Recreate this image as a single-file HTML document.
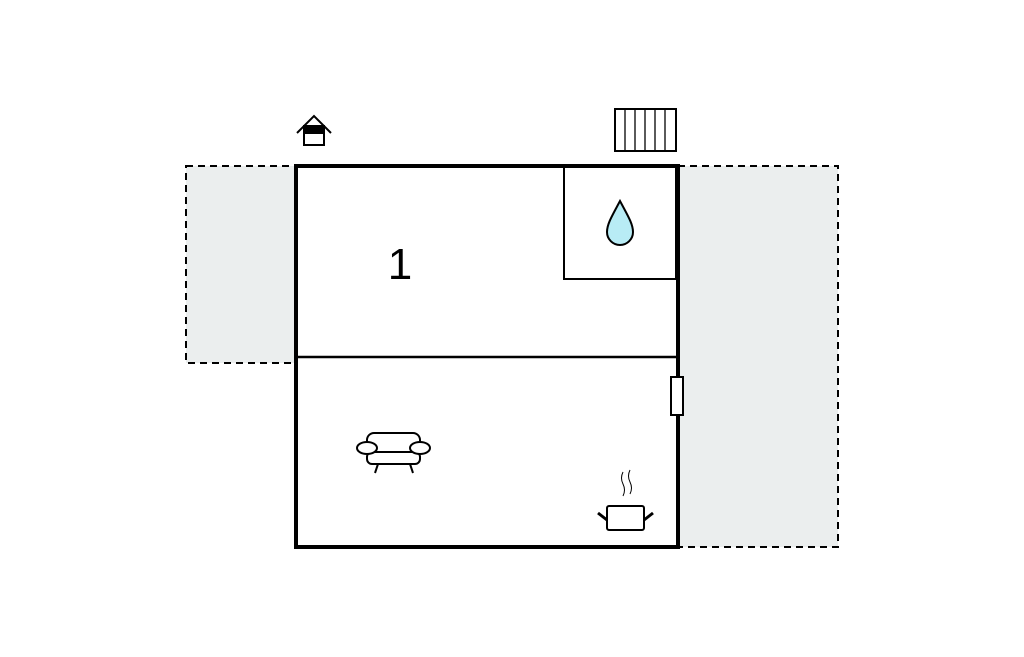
<!DOCTYPE html>
<html><head><style>html,body{margin:0;padding:0;background:#fff}</style></head>
<body>
<svg width="1024" height="652" viewBox="0 0 1024 652" xmlns="http://www.w3.org/2000/svg">
<rect x="186" y="166" width="110" height="197" fill="#ebeeee" stroke="#000" stroke-width="2" stroke-dasharray="7,5"/>
<rect x="678" y="166" width="160" height="381" fill="#ebeeee" stroke="#000" stroke-width="2" stroke-dasharray="7,5"/>
<rect x="296" y="166" width="382" height="381" fill="#fff"/>
<rect x="564" y="166" width="112" height="113" fill="none" stroke="#000" stroke-width="2"/>
<line x1="296" y1="357" x2="678" y2="357" stroke="#000" stroke-width="2.5"/>
<rect x="296" y="166" width="382" height="381" fill="none" stroke="#000" stroke-width="4"/>
<rect x="671" y="377" width="12" height="38" fill="#fff" stroke="#000" stroke-width="2"/>
<text x="400" y="279" font-family="Liberation Sans, sans-serif" font-size="44" text-anchor="middle">1</text>
<path d="M620 201 C612 216 607 224 607 232 A13 13 0 0 0 633 232 C633 224 628 216 620 201 Z" fill="#b8ecf5" stroke="#000" stroke-width="2"/>
<rect x="615" y="109" width="61" height="42" fill="#fff" stroke="#000" stroke-width="2"/>
<g stroke="#000" stroke-width="1.3"><line x1="625" y1="109" x2="625" y2="151"/><line x1="635" y1="109" x2="635" y2="151"/><line x1="645" y1="109" x2="645" y2="151"/><line x1="655" y1="109" x2="655" y2="151"/><line x1="665" y1="109" x2="665" y2="151"/></g>
<path d="M297 133 L314 116 L331 133" fill="none" stroke="#000" stroke-width="2"/>
<rect x="304" y="126" width="20" height="19" fill="#fff" stroke="#000" stroke-width="2"/>
<rect x="304" y="126" width="20" height="8" fill="#000"/>
<g fill="#fff" stroke="#000" stroke-width="2">
<rect x="367" y="433" width="53" height="20" rx="7"/>
<rect x="367" y="452" width="53" height="12" rx="5"/>
<ellipse cx="367" cy="448" rx="10" ry="6"/>
<ellipse cx="420" cy="448" rx="10" ry="6"/>
</g>
<line x1="378" y1="464" x2="375" y2="473" stroke="#000" stroke-width="2"/>
<line x1="410" y1="464" x2="413" y2="473" stroke="#000" stroke-width="2"/>
<rect x="607" y="506" width="37" height="24" rx="2" fill="#fff" stroke="#000" stroke-width="2"/>
<line x1="598" y1="513" x2="607" y2="520" stroke="#000" stroke-width="3"/>
<line x1="644" y1="520" x2="653" y2="513" stroke="#000" stroke-width="3"/>
<path d="M623 472 q-3 6 0 12 q3 6 0 12 M630 470 q-3 6 0 12 q3 6 0 12" fill="none" stroke="#000" stroke-width="1"/>
</svg>
</body></html>
